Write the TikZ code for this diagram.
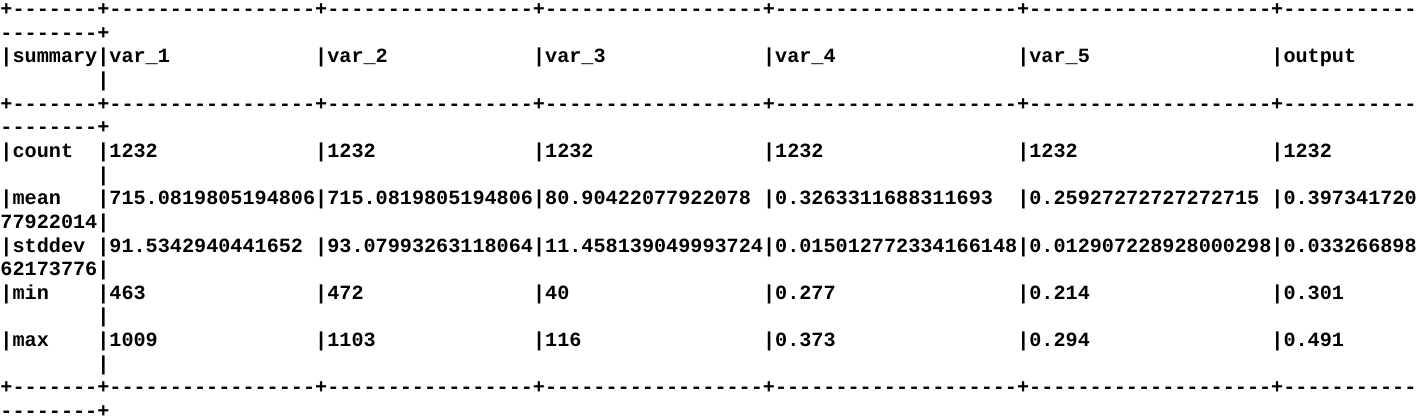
\documentclass[tikz,border=0pt]{standalone}
\usepackage{fontspec}
\newfontfamily\tblfont{Liberation Mono}
\ExplSyntaxOn
\cs_new:Npn \dsh #1 { \prg_replicate:nn {#1} {-} }
\ExplSyntaxOff
\tikzset{txt/.style={font=\tblfont\bfseries\fontsize{20.17}{24}\selectfont, anchor=base west, inner sep=0pt, outer sep=0pt, text=black}}
\newcommand\tcell[4]{\node[txt] (#1) at (#2,#3) {#4};}
\newcommand\rowcells[8]{%
  \tcell{#1a}{0}{#2}{#3}\tcell{#1b}{8}{#2}{#4}\tcell{#1c}{26}{#2}{#5}%
  \tcell{#1d}{44}{#2}{#6}\tcell{#1e}{63}{#2}{#7}\tcell{#1f}{84}{#2}{#8}}
\begin{document}
\begin{tikzpicture}
\useasboundingbox[fill=white] (0pt,0pt) rectangle (1418pt,-420pt);
\begin{scope}[shift={(0.5pt,-15.5pt)}, x=12.104pt, y=-23.65pt]
% top rule
\tcell{ra}{0}{0}{+\dsh{7}+\dsh{17}+\dsh{17}+\dsh{18}+\dsh{20}+\dsh{20}+\dsh{11}}
\tcell{rb}{0}{1}{\dsh{8}+}
% header
\rowcells{h}{2}{|summary}{|var\_1}{|var\_2}{|var\_3}{|var\_4}{|var\_5}
\tcell{hg}{105}{2}{|output}
\tcell{hw}{8}{3}{|}
% middle rule
\tcell{sa}{0}{4}{+\dsh{7}+\dsh{17}+\dsh{17}+\dsh{18}+\dsh{20}+\dsh{20}+\dsh{11}}
\tcell{sb}{0}{5}{\dsh{8}+}
% count
\rowcells{c}{6}{|count}{|1232}{|1232}{|1232}{|1232}{|1232}
\tcell{cg}{105}{6}{|1232}
\tcell{cw}{8}{7}{|}
% mean
\rowcells{m}{8}{|mean}{|715.0819805194806}{|715.0819805194806}{|80.90422077922078}{|0.3263311688311693}{|0.25927272727272715}
\tcell{mg}{105}{8}{|0.397341720}
\tcell{mw}{0}{9}{77922014|}
% stddev
\rowcells{s}{10}{|stddev}{|91.5342940441652}{|93.07993263118064}{|11.458139049993724}{|0.015012772334166148}{|0.012907228928000298}
\tcell{sg}{105}{10}{|0.033266898}
\tcell{sw}{0}{11}{62173776|}
% min
\rowcells{n}{12}{|min}{|463}{|472}{|40}{|0.277}{|0.214}
\tcell{ng}{105}{12}{|0.301}
\tcell{nw}{8}{13}{|}
% max
\rowcells{x}{14}{|max}{|1009}{|1103}{|116}{|0.373}{|0.294}
\tcell{xg}{105}{14}{|0.491}
\tcell{xw}{8}{15}{|}
% bottom rule
\tcell{ba}{0}{16}{+\dsh{7}+\dsh{17}+\dsh{17}+\dsh{18}+\dsh{20}+\dsh{20}+\dsh{11}}
\tcell{bb}{0}{17}{\dsh{8}+}
\end{scope}
\end{tikzpicture}
\end{document}
